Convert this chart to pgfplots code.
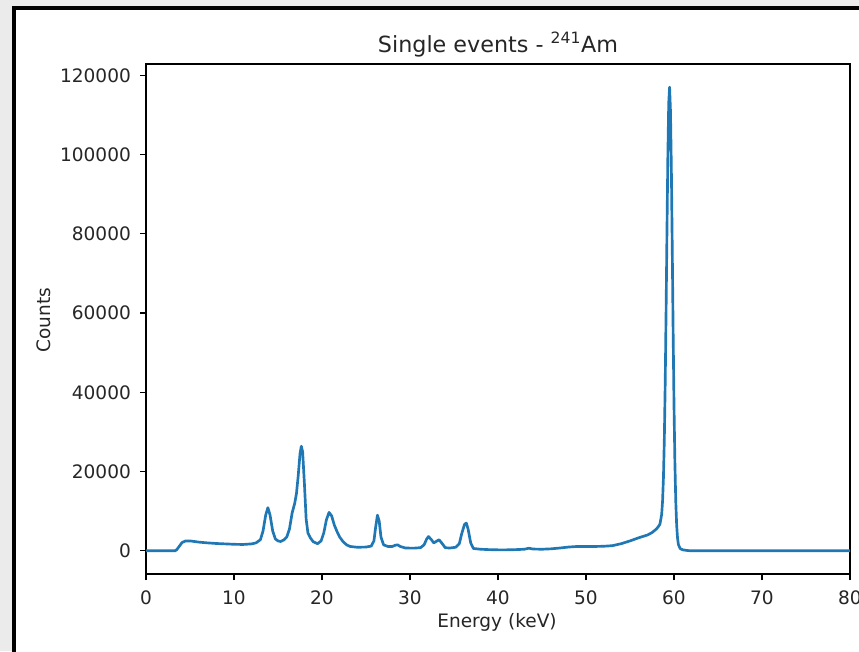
\documentclass[border=0pt]{standalone}
\usepackage{pgfplots}
\pgfplotsset{compat=1.18}
\usepackage{fontspec}
\setmainfont{DejaVu Sans}
\definecolor{mplblue}{HTML}{1F77B4}
\definecolor{bggrey}{HTML}{EBEBEB}
\begin{document}
\begin{tikzpicture}
\useasboundingbox (0pt,0pt) rectangle (644.25pt,488.25pt);
\fill[bggrey] (0pt,0pt) rectangle (644.25pt,488.25pt);
\fill[white] (10.5pt,0pt) rectangle (644.25pt,482.25pt);
\draw[line width=3pt] (10.5pt,-5pt) -- (10.5pt,482.25pt) -- (650pt,482.25pt);
\begin{axis}[
  at={(109.5pt,57.75pt)}, anchor=south west,
  scale only axis, width=528pt, height=382.5pt,
  xmin=0, xmax=80, ymin=-5850, ymax=122850,
  xtick={0,10,20,30,40,50,60,70,80},
  xticklabels={0,10,20,30,40,50,60,70,80},
  ytick={0,20000,40000,60000,80000,100000,120000},
  yticklabels={0,20000,40000,60000,80000,100000,120000},
  scaled y ticks=false,
  tick pos=left, tick align=outside,
  major tick length=4.5pt,
  every tick/.style={black, line width=0.9pt},
  axis line style={line width=0.9pt},
  tick label style={font=\fontsize{13.9}{16}\selectfont, text=black!85},
  yticklabel style={anchor=east, inner sep=0pt, xshift=-6.65pt},
  xticklabel style={anchor=north, inner sep=0pt, yshift=-8pt},
]
\addplot[mplblue, line width=2pt, line join=round] coordinates {
(0,0) (3.3,0) (3.5,300) (3.8,1200) (4.1,2100) (4.5,2500) (5.0,2500) (5.5,2350)
(6,2200) (7,2000) (8,1850) (9,1750) (10,1650) (11,1600) (12,1750) (12.5,2000)
(13.0,2800) (13.3,5000) (13.6,9000) (13.85,10900) (14.1,9000) (14.4,5000)
(14.7,3000) (15.0,2500) (15.3,2350) (15.7,2800) (16.0,3500) (16.3,5500)
(16.6,9500) (16.9,12000) (17.1,14500) (17.3,19000) (17.5,24500) (17.65,26400)
(17.8,25000) (18.0,17000) (18.2,8000) (18.4,4500) (18.7,3200) (19.0,2300)
(19.5,1800) (19.9,2500) (20.2,4500) (20.5,7800) (20.8,9700) (21.1,8800)
(21.4,6500) (21.7,4900) (22.0,3500) (22.4,2300) (22.8,1500) (23.2,1100)
(24,900) (25,950) (25.6,1200) (25.9,2500) (26.1,6000) (26.3,9000) (26.5,7500)
(26.7,3500) (27.0,1500) (27.5,1100) (28.0,1100) (28.3,1400) (28.6,1500)
(28.9,1100) (29.5,700) (30.5,680) (31.2,800) (31.6,1500) (31.9,3000)
(32.1,3600) (32.4,2900) (32.7,2000) (33.0,2400) (33.3,2800) (33.6,2000)
(34.0,800) (34.5,700) (35.2,900) (35.6,1800) (35.9,4500) (36.2,6700)
(36.4,7000) (36.6,5500) (36.9,2000) (37.2,600) (38,400) (39,300) (40,250)
(41,250) (42,300) (43,400) (43.5,650) (44,450) (45,400) (46,500) (47,700)
(48,950) (49,1100) (50,1100) (51,1100) (52,1150) (53,1300) (54,1800)
(55,2500) (56,3300) (57,4000) (57.5,4600) (58.0,5500) (58.2,6050) (58.4,6700)
(58.6,9200) (58.7,12500) (58.8,18400) (58.9,28000) (59.0,42100) (59.1,60200)
(59.2,80400) (59.3,99400) (59.4,113000) (59.5,117000) (59.6,111000)
(59.7,96500) (59.8,76800) (59.9,55700) (60.0,36900) (60.1,22500) (60.2,12600)
(60.3,6600) (60.4,3270) (60.5,1600) (60.7,550) (61.0,250) (61.5,80) (62.0,0)
(80,0)
};
\end{axis}
\node[anchor=base, font=\fontsize{16.7}{20}\selectfont, text=black!85] at (373.5pt,449pt) {Single events - \textsuperscript{241}Am};
\node[anchor=base, font=\fontsize{13.9}{16}\selectfont, text=black!85] at (372.75pt,18pt) {Energy (keV)};
\node[anchor=base, rotate=90, font=\fontsize{13.9}{16}\selectfont, text=black!85] at (37.5pt,248.25pt) {Counts};
\end{tikzpicture}
\end{document}
